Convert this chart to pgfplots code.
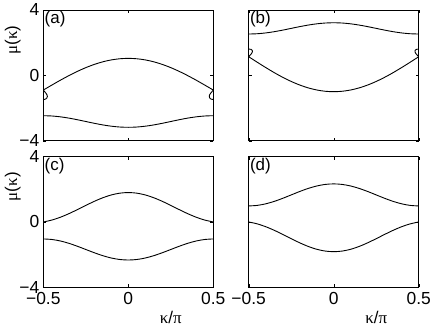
\documentclass[border=0pt]{standalone}
\usepackage{fontspec}
\setmainfont{Liberation Sans}
\newfontfamily\grk{Liberation Serif}
\usepackage{pgfplots}
\pgfplotsset{compat=1.18}

\pgfplotsset{
  panel/.style={
    scale only axis, width=170bp, height=130.7bp,
    xmin=-0.5, xmax=0.5, ymin=-4, ymax=4,
    xtick={-0.5,0,0.5}, ytick={-4,0,4},
    tick align=inside, major tick length=3bp,
    tick style={black, line width=0.4pt},
    axis line style={black, line width=0.6pt},
    xticklabels={}, yticklabels={},
    every tick label/.append style={font=\fontsize{17.5}{20}\selectfont},
    xticklabel style={yshift=-1.5bp},
    yticklabel style={xshift=-0.5bp},
    label style={font=\fontsize{17}{20}\selectfont},
    ylabel style={at={(axis description cs:-0.18,0.77)}, anchor=center},
    xlabel style={at={(axis description cs:0.75,-0.23)}, anchor=center},
  },
  curve/.style={black, line width=0.9pt, smooth, mark=none},
  loop/.style={black, line width=0.9pt, mark=none},
}
\newcommand{\plabel}[1]{\node[anchor=north west, inner sep=1.2bp, font=\fontsize{17}{20}\selectfont] at (rel axis cs:0,1) {#1};}

\begin{document}
\begin{tikzpicture}
\useasboundingbox (0,0) rectangle (436bp,-328bp);

% (a)
\begin{axis}[panel, at={(43.3bp,-140.7bp)},
  yticklabels={−4,0,4}, ylabel={{\grk μ}({\grk κ})}]
\addplot[curve] coordinates {(-0.5,-0.9) (-0.45,-0.597) (-0.4,-0.3) (-0.35,-0.019) (-0.3,0.24) (-0.25,0.472) (-0.2,0.669) (-0.15,0.829) (-0.1,0.945) (-0.05,1.016) (0,1.04) (0.05,1.016) (0.1,0.945) (0.15,0.829) (0.2,0.669) (0.25,0.472) (0.3,0.24) (0.35,-0.019) (0.4,-0.3) (0.45,-0.597) (0.5,-0.9)};
\addplot[curve] coordinates {(-0.5,-2.47) (-0.45,-2.487) (-0.4,-2.538) (-0.35,-2.616) (-0.3,-2.715) (-0.25,-2.825) (-0.2,-2.935) (-0.15,-3.034) (-0.1,-3.112) (-0.05,-3.163) (0,-3.18) (0.05,-3.163) (0.1,-3.112) (0.15,-3.034) (0.2,-2.935) (0.25,-2.825) (0.3,-2.715) (0.35,-2.616) (0.4,-2.538) (0.45,-2.487) (0.5,-2.47)};
\addplot[loop] coordinates {(-0.5,-0.9) (-0.492,-1.0) (-0.484,-1.1) (-0.478,-1.2) (-0.476,-1.3) (-0.48,-1.4) (-0.488,-1.46) (-0.5,-1.48)};
\addplot[loop] coordinates {(0.5,-0.9) (0.492,-1.0) (0.484,-1.1) (0.478,-1.2) (0.476,-1.3) (0.48,-1.4) (0.488,-1.46) (0.5,-1.48)};
\plabel{(a)}
\end{axis}

% (b)
\begin{axis}[panel, at={(248.7bp,-140.7bp)}]
\addplot[curve] coordinates {(-0.5,2.53) (-0.45,2.547) (-0.4,2.596) (-0.35,2.672) (-0.3,2.768) (-0.25,2.875) (-0.2,2.982) (-0.15,3.078) (-0.1,3.154) (-0.05,3.203) (0,3.22) (0.05,3.203) (0.1,3.154) (0.15,3.078) (0.2,2.982) (0.25,2.875) (0.3,2.768) (0.35,2.672) (0.4,2.596) (0.45,2.547) (0.5,2.53)};
\addplot[curve] coordinates {(-0.5,1.14) (-0.45,0.805) (-0.4,0.479) (-0.35,0.168) (-0.3,-0.118) (-0.25,-0.373) (-0.2,-0.591) (-0.15,-0.767) (-0.1,-0.895) (-0.05,-0.974) (0,-1.0) (0.05,-0.974) (0.1,-0.895) (0.15,-0.767) (0.2,-0.591) (0.25,-0.373) (0.3,-0.118) (0.35,0.168) (0.4,0.479) (0.45,0.805) (0.5,1.14)};
\addplot[loop] coordinates {(-0.5,1.14) (-0.491,1.24) (-0.483,1.34) (-0.478,1.44) (-0.479,1.53) (-0.486,1.59) (-0.5,1.61)};
\addplot[loop] coordinates {(0.5,1.14) (0.491,1.24) (0.483,1.34) (0.478,1.44) (0.479,1.53) (0.486,1.59) (0.5,1.61)};
\plabel{(b)}
\end{axis}

% (c)
\begin{axis}[panel, at={(43.3bp,-287.3bp)},
  yticklabels={−4,0,4}, xticklabels={−0.5,0,0.5},
  ylabel={{\grk μ}({\grk κ})}, xlabel={{\grk κ}/{\grk π}}]
\addplot[curve] coordinates {(-0.5,0) (-0.45,0.115) (-0.4,0.287) (-0.35,0.505) (-0.3,0.753) (-0.25,1.012) (-0.2,1.262) (-0.15,1.481) (-0.1,1.653) (-0.05,1.763) (0,1.8) (0.05,1.763) (0.1,1.653) (0.15,1.481) (0.2,1.262) (0.25,1.012) (0.3,0.753) (0.35,0.505) (0.4,0.287) (0.45,0.115) (0.5,0)};
\addplot[curve] coordinates {(-0.5,-1.04) (-0.45,-1.072) (-0.4,-1.163) (-0.35,-1.306) (-0.3,-1.486) (-0.25,-1.685) (-0.2,-1.884) (-0.15,-2.064) (-0.1,-2.207) (-0.05,-2.298) (0,-2.33) (0.05,-2.298) (0.1,-2.207) (0.15,-2.064) (0.2,-1.884) (0.25,-1.685) (0.3,-1.486) (0.35,-1.306) (0.4,-1.163) (0.45,-1.072) (0.5,-1.04)};
\plabel{(c)}
\end{axis}

% (d)
\begin{axis}[panel, at={(248.7bp,-287.3bp)},
  xticklabels={−0.5,0,0.5}, xlabel={{\grk κ}/{\grk π}}]
\addplot[curve] coordinates {(-0.5,0.98) (-0.45,1.013) (-0.4,1.109) (-0.35,1.258) (-0.3,1.446) (-0.25,1.655) (-0.2,1.864) (-0.15,2.052) (-0.1,2.201) (-0.05,2.297) (0,2.33) (0.05,2.297) (0.1,2.201) (0.15,2.052) (0.2,1.864) (0.25,1.655) (0.3,1.446) (0.35,1.258) (0.4,1.109) (0.45,1.013) (0.5,0.98)};
\addplot[curve] coordinates {(-0.5,0) (-0.45,-0.117) (-0.4,-0.29) (-0.35,-0.51) (-0.3,-0.761) (-0.25,-1.023) (-0.2,-1.276) (-0.15,-1.498) (-0.1,-1.672) (-0.05,-1.782) (0,-1.82) (0.05,-1.782) (0.1,-1.672) (0.15,-1.498) (0.2,-1.276) (0.25,-1.023) (0.3,-0.761) (0.35,-0.51) (0.4,-0.29) (0.45,-0.117) (0.5,0)};
\plabel{(d)}
\end{axis}
\end{tikzpicture}
\end{document}
